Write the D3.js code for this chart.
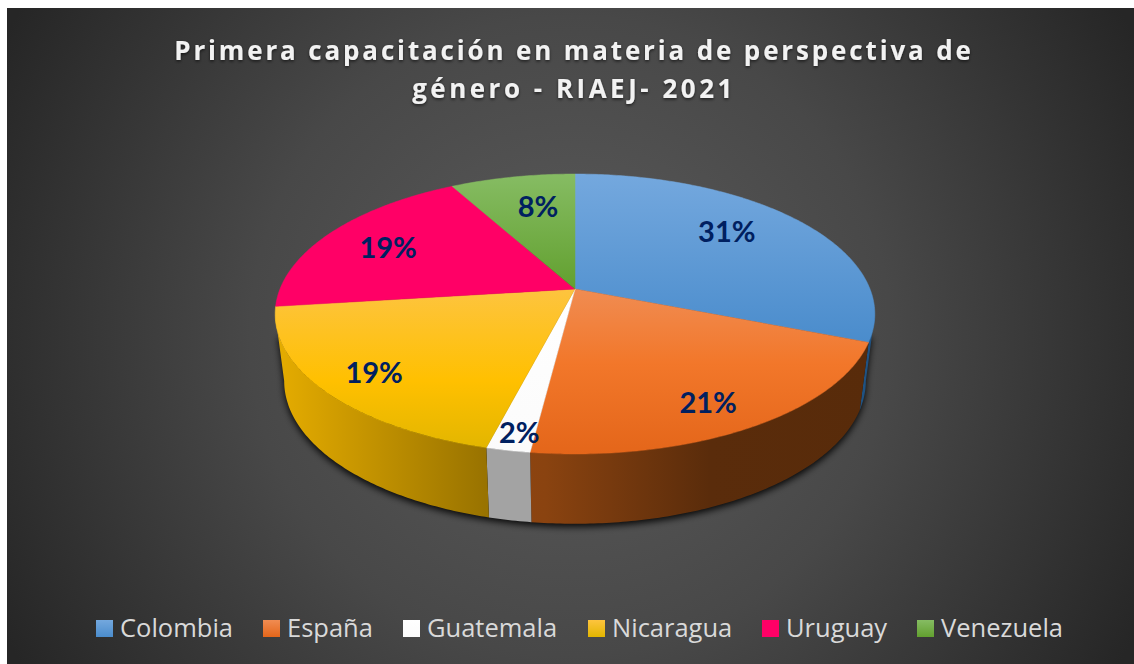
<!DOCTYPE html>
<html><head><meta charset="utf-8">
<script src="https://cdn.jsdelivr.net/npm/d3@7"></script>
<style>html,body{margin:0;padding:0;background:#fff;overflow:hidden}svg{display:block}</style>
</head><body><div id="c"></div>
<script>
const categories = ["Colombia","España","Guatemala","Nicaragua","Uruguay","Venezuela"];
const shares = [31,21,2,19,19,8];
const labels = ["31%","21%","2%","19%","19%","8%"];
const baseColors = ["#5b9bd5","#ed7d31","#ffffff","#ffc000","#ff0066","#70ad47"];
const wallColors = ["#3284d2","#ee731c","#ffffff","#ffc000","#ff0066","#70ad47"];
const faceStops = [
 ["#74a8de","#4a8ccc"],["#f08c52","#e4661a"],["#ffffff","#fbfbfb"],
 ["#fdc43f","#e3b600"],["#ff0066","#ff0066"],["#86bc63","#62a02f"]];
const titleLines = ["Primera capacitación en materia de perspectiva de","género - RIAEJ- 2021"];
const titleSpacing = [2.85,3.5];

const W=1134,H=664;
const svg=d3.select("#c").append("svg").attr("width",W).attr("height",H);
const defs=svg.append("defs");
const bg=defs.append("radialGradient").attr("id","bg").attr("gradientUnits","userSpaceOnUse")
 .attr("cx",570).attr("cy",336).attr("r",640);
bg.append("stop").attr("offset",0).attr("stop-color","#5c5c5c");
bg.append("stop").attr("offset",0.5).attr("stop-color","#484848");
bg.append("stop").attr("offset",1).attr("stop-color","#262626");
const blur=defs.append("filter").attr("id","sh").attr("x","-10%").attr("y","-10%").attr("width","120%").attr("height","120%");
blur.append("feGaussianBlur").attr("stdDeviation",3.5);
const ts=defs.append("filter").attr("id","ts").attr("x","-5%").attr("y","-20%").attr("width","110%").attr("height","150%");
ts.append("feDropShadow").attr("dx",0).attr("dy",1.5).attr("stdDeviation",1.5).attr("flood-color","#000").attr("flood-opacity",0.6);

svg.append("rect").attr("x",7).attr("y",8).attr("width",W-7).attr("height",H-8).attr("fill","url(#bg)");

// title
const title=svg.append("g").attr("filter","url(#ts)");
titleLines.forEach((t,i)=>title.append("text").attr("x",574).attr("y",60+i*38).attr("text-anchor","middle")
 .attr("font-family","'Open Sans'").attr("font-weight",700).attr("font-size",26).attr("letter-spacing",titleSpacing[i])
 .attr("fill","#f2f2f2").text(t));

// pie geometry: d3.pie angles, projected with a perspective tilt
const pie=d3.pie().sort(null).value(d=>d)(shares);
const cx=575, R=295, k=-0.1786, apexY=289, a=83.9;
const topPt=(ang,r=1)=>{const u=r*Math.sin(ang),v=-r*Math.cos(ang),w=1+k*v;
  return [cx+R*u/w,(apexY+a*v)/w];};
const botPt=(ang)=>{const p=topPt(ang);return [cx+0.97*(p[0]-cx),381+1.02*(p[1]-314)];};
const line=d3.line();
const angles=(s,e)=>{const n=Math.max(2,Math.ceil((e-s)/0.012));return d3.range(n+1).map(i=>s+(e-s)*i/n);};
// angles where the projected rim is tangent to the vertical: limits of the visible wall
const wallStart=Math.acos(k), wallEnd=2*Math.PI-Math.acos(k);

// shadow under the pie, hugging the wall
const lerp=(p,q,f)=>[p[0]+(q[0]-p[0])*f,p[1]+(q[1]-p[1])*f];
const shadowG=svg.append("g").attr("filter","url(#sh)").attr("fill","#000").attr("fill-opacity",0.9);
shadowG.append("path").attr("d",line(angles(0,2*Math.PI).map(t=>{const p=botPt(t);return [p[0],p[1]+3];}))+"Z");
shadowG.append("path").attr("d",line([lerp(topPt(wallEnd),botPt(wallEnd),0.35),botPt(wallEnd),botPt(wallStart),lerp(topPt(wallStart),botPt(wallStart),0.35)])+"Z");

// side wall, front slices only, shaded left to right
const shadeU=[-1,-0.3,-0.1,0.45,1], shadeF=[0.9,0.6,0.58,0.38,0.37];
const wallFlat=[0.62,null,0.64,null,null,null];
const sides=svg.append("g");
pie.forEach((s,i)=>{
  const b=Math.max(s.startAngle,wallStart), e=Math.min(s.endAngle,wallEnd);
  if(b>=e) return;
  const as=angles(b,e);
  const id="s"+i, c=d3.rgb(wallColors[i]);
  const g=defs.append("linearGradient").attr("id",id).attr("gradientUnits","userSpaceOnUse")
    .attr("x1",cx-300).attr("x2",cx+300).attr("y1",0).attr("y2",0);
  shadeU.forEach((u,j)=>{const f=wallFlat[i]!==null?wallFlat[i]:shadeF[j];
    g.append("stop").attr("offset",(u+1)/2).attr("stop-color",d3.rgb(c.r*f,c.g*f,c.b*f));});
  sides.append("path").attr("fill",`url(#${id})`)
    .attr("d",line([...as.map(t=>topPt(t)),...as.slice().reverse().map(botPt)])+"Z");
});

// top faces
const faces=svg.append("g");
pie.forEach((s,i)=>{
  const g=defs.append("linearGradient").attr("id","f"+i).attr("x1",0).attr("y1",0).attr("x2",0).attr("y2",1);
  g.append("stop").attr("offset",0).attr("stop-color",faceStops[i][0]);
  if(i===3) g.append("stop").attr("offset",0.58).attr("stop-color",baseColors[3]);
  if(i===1) g.append("stop").attr("offset",0.45).attr("stop-color","#f2772a");
  g.append("stop").attr("offset",1).attr("stop-color",faceStops[i][1]);
  const pts=[[cx,apexY],...angles(s.startAngle,s.endAngle).map(t=>topPt(t))];
  faces.append("path").attr("fill",`url(#f${i})`).attr("stroke",`url(#f${i})`).attr("stroke-width",0.5)
    .attr("d",line(pts)+"Z");
});

// data labels: radial fraction and angular nudge from each slice's mid-angle
const labelR=[0.719,0.83,0.907,0.829,0.742,0.693];
const labelNudgeDeg=[-5.1,2.4,-0.7,-0.9,-1.5,2.7];
pie.forEach((s,i)=>{
  const m=(s.startAngle+s.endAngle)/2+labelNudgeDeg[i]*Math.PI/180, p=topPt(m,labelR[i]);
  svg.append("text").attr("x",p[0]).attr("y",p[1]).attr("dy","0.36em").attr("text-anchor","middle")
    .attr("font-family","Lato").attr("font-weight",700).attr("font-size",29).attr("fill","#002060").text(labels[i]);
});

// legend
const legendX=[96,263,403,588,762,917];
const lg=svg.append("g");
categories.forEach((c,i)=>{
  const g=defs.append("linearGradient").attr("id","l"+i).attr("x1",0).attr("y1",0).attr("x2",0).attr("y2",1);
  g.append("stop").attr("offset",0).attr("stop-color",faceStops[i][0]);
  g.append("stop").attr("offset",1).attr("stop-color",faceStops[i][1]);
  lg.append("rect").attr("x",legendX[i]).attr("y",620).attr("width",17).attr("height",17).attr("fill",`url(#l${i})`);
  lg.append("text").attr("x",legendX[i]+24).attr("y",637).attr("font-family","'Open Sans'").attr("font-size",25.5)
    .attr("fill","#d9d9d9").text(c);
});
</script></body></html>
